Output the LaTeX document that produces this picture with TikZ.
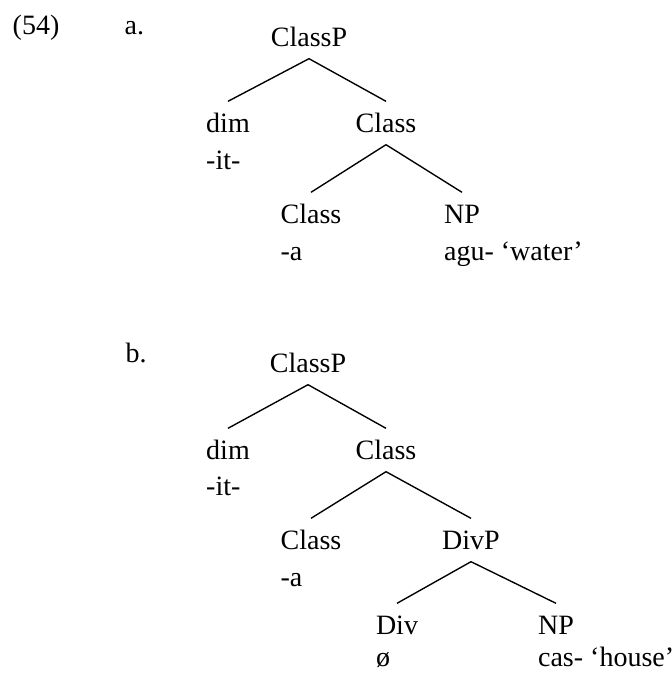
\documentclass[tikz,border=0pt]{standalone}
\usepackage{fontspec}
\setmainfont{Liberation Serif}

\begin{document}
\begin{tikzpicture}[x=0.4pt,y=-0.4pt,line width=0.55pt,
    cat/.style={anchor=base,inner sep=2pt,text height=10pt,text depth=2.8pt},
    gloss/.style={anchor=base west,inner sep=2pt}]
    \fontsize{11.2}{14}\selectfont

    % fix the size of the page
    \useasboundingbox (0,0) rectangle (672,673);

    % example number and letters
    \node[anchor=base west,inner sep=0pt] (num) at (12,34) {(54)};
    \node[anchor=base west,inner sep=0pt] (la) at (124,34) {a.};
    \node[anchor=base west,inner sep=0pt] (lb) at (125,362) {b.};

    % tree a
    \node[cat] (a0) at (309,46) {ClassP};
    \node[cat] (a1) at (228,132) {dim};
    \node[cat] (a2) at (386,132) {Class};
    \node[cat] (a3) at (311,223) {Class};
    \node[cat] (a4) at (462,223) {NP};
    \node[gloss] (a1g) at ([yshift=-14.8pt]a1.base west) {-it-};
    \node[gloss] (a3g) at ([yshift=-15pt]a3.base west) {-a};
    \node[gloss] (a4g) at ([yshift=-15pt]a4.base west) {agu- `water'};

    % tree b
    \node[cat] (b0) at (308,372) {ClassP};
    \node[cat] (b1) at (228,459) {dim};
    \node[cat] (b2) at (386,459) {Class};
    \node[cat] (b3) at (311,549) {Class};
    \node[cat] (b4) at (471,549) {DivP};
    \node[cat] (b5) at (397,634) {Div};
    \node[cat] (b6) at (556,634) {NP};
    \node[gloss] (b1g) at ([yshift=-14.4pt]b1.base west) {-it-};
    \node[gloss] (b3g) at ([yshift=-15pt]b3.base west) {-a};
    \node[gloss] (b5g) at ([yshift=-13pt]b5.base west) {ø};
    \node[gloss] (b6g) at ([yshift=-13pt]b6.base west) {cas- `house'};

    % branches
    \foreach \p/\c in {a0/a1,a0/a2,a2/a3,a2/a4,b0/b1,b0/b2,b2/b3,b2/b4,b4/b5,b4/b6}
        \draw (\p.south) -- (\c.north);

\end{tikzpicture}
\end{document}
